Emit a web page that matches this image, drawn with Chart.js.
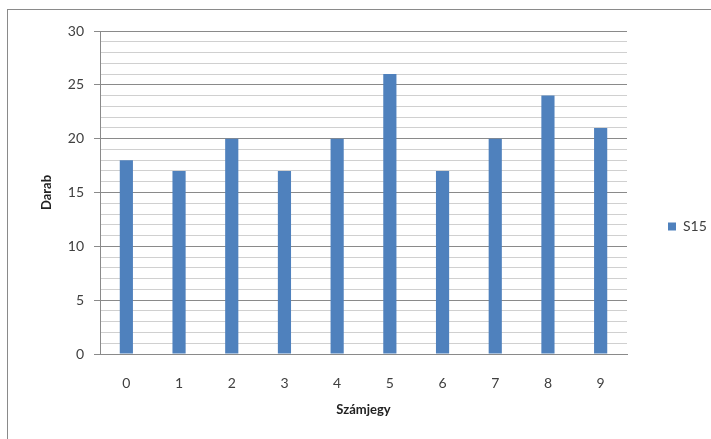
<!DOCTYPE html>
<html>
<head>
<meta charset="utf-8">
<script src="https://cdn.jsdelivr.net/npm/chart.js@4/dist/chart.umd.min.js"></script>
<style>
  html, body { margin: 0; padding: 0; background: #fff; overflow: hidden; }
  #wrap { position: relative; width: 711px; height: 439px; }
  #frame { position: absolute; left: 7px; top: 9px; width: 720px; height: 450px; border: 1px solid #8a8a8a; box-sizing: border-box; }
  #myChart { position: absolute; left: 0; top: 0; }
</style>
</head>
<body>
<div id="wrap">
  <div id="frame"></div>
  <canvas id="myChart" width="711" height="439"></canvas>
</div>
<script>
const szamjegyek = ['0', '1', '2', '3', '4', '5', '6', '7', '8', '9'];
const darab = [18, 17, 20, 17, 20, 26, 17, 20, 24, 21];
const sorozatNev = 'S15';
const yMin = 0;
const yMax = 30;
const yLepes = 1;      // minden egész értéknél vékony rácsvonal
const yFoLepes = 5;    // feliratozott fővonalak

const foVonal = '#8a8a8a';
const mellekVonal = '#d0d0d0';
const betu = 'Lato, "Liberation Sans", sans-serif';

// a jelmagyarázat sávja fix szélességű legyen
const jelmagyarazat = {
  id: 'jelmagyarazat',
  afterInit(chart) {
    const eredetiFit = chart.legend.fit;
    chart.legend.fit = function () {
      eredetiFit.call(this);
      this.width = 84;
    };
  }
};

const ctx = document.getElementById('myChart');

const myChart = new Chart(ctx, {
  type: 'bar',
  data: {
    labels: szamjegyek,
    datasets: [{
      label: sorozatNev,
      data: darab,
      backgroundColor: '#4f81bd',
      borderWidth: 0,
      barPercentage: 0.25,
      categoryPercentage: 1
    }]
  },
  options: {
    responsive: false,
    animation: false,
    layout: { padding: { left: 35, top: 31, right: 0, bottom: 17 } },
    plugins: {
      tooltip: { enabled: false },
      legend: {
        position: 'right',
        labels: {
          boxWidth: 8,
          boxHeight: 8,
          padding: 41,
          color: '#404040',
          font: { family: betu, size: 14 }
        }
      }
    },
    scales: {
      x: {
        grid: { display: false },
        border: { display: true, color: foVonal },
        ticks: { color: '#404040', padding: 13, font: { family: betu, size: 14 } },
        title: {
          display: true,
          text: 'Számjegy',
          color: '#222',
          font: { family: betu, size: 13, weight: 'bold' }
        },
        afterFit(scale) { scale.height = 68; }
      },
      y: {
        min: yMin,
        max: yMax,
        grid: {
          color: (c) => (c.tick.value % yFoLepes === 0 ? foVonal : mellekVonal),
          tickColor: (c) => (c.tick.value % yFoLepes === 0 ? foVonal : 'rgba(0,0,0,0)'),
          tickLength: 6
        },
        border: { color: foVonal },
        ticks: {
          stepSize: yLepes,
          autoSkip: false,
          padding: 10,
          color: '#404040',
          font: { family: betu, size: 14 },
          callback: (v) => (v % yFoLepes === 0 ? v : '')
        },
        title: {
          display: true,
          text: 'Darab',
          color: '#222',
          font: { family: betu, size: 13, weight: 'bold' }
        },
        afterFit(scale) { scale.width = 65; }
      }
    }
  },
  plugins: [jelmagyarazat]
});
</script>
</body>
</html>
